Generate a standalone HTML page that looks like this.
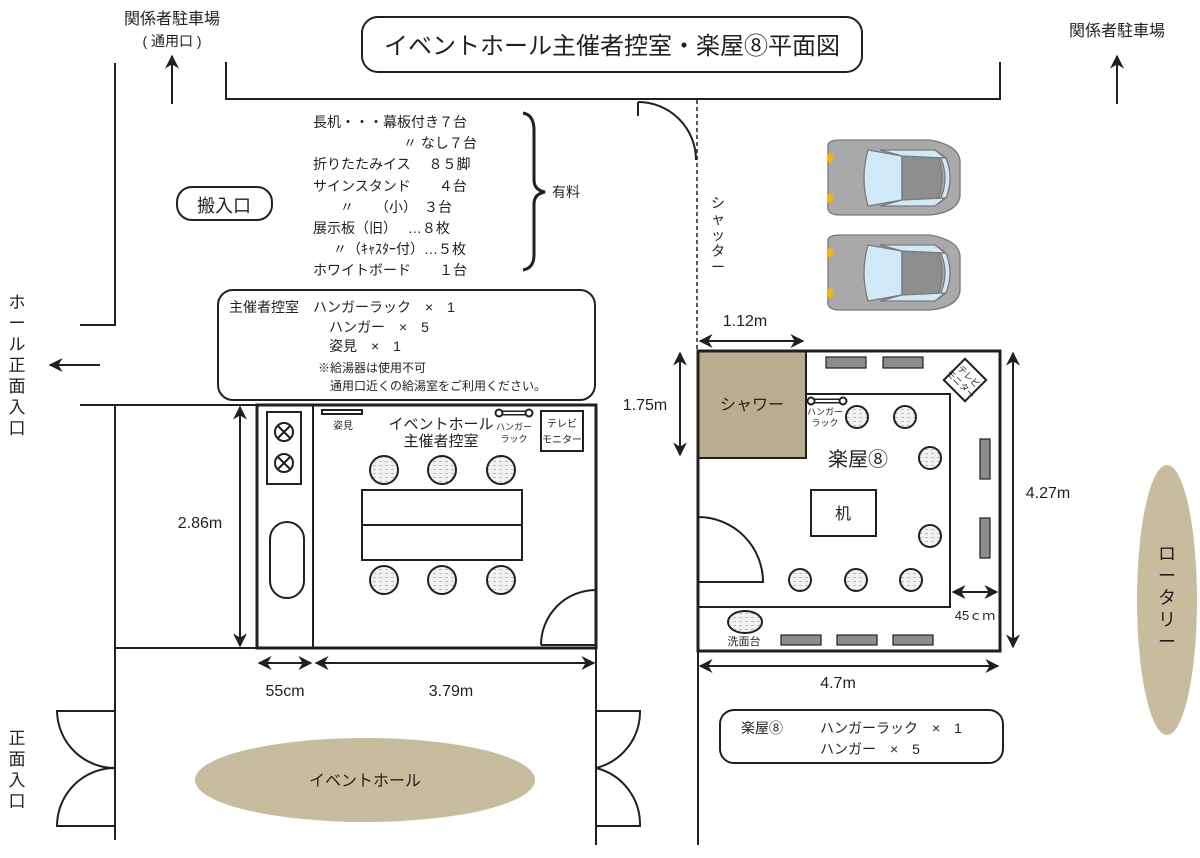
<!DOCTYPE html>
<html><head><meta charset="utf-8"><style>
html,body{margin:0;padding:0;background:#fff}
svg{display:block;font-family:"Liberation Sans","Noto Sans CJK JP",sans-serif;fill:#231f20}
</style></head><body>
<svg width="1200" height="858" viewBox="0 0 1200 858" xmlns="http://www.w3.org/2000/svg">
<defs>
<marker id="ah" viewBox="0 0 10 10" refX="9" refY="5" markerWidth="7" markerHeight="7" orient="auto-start-reverse"><path d="M0,0 L10,5 L0,10 L3,5 z" fill="#231f20"/></marker>
<pattern id="dots" width="6" height="4" patternUnits="userSpaceOnUse"><rect width="6" height="4" fill="#f2f2f2"/><rect x="1" y="1" width="3" height="1" fill="#bbb"/></pattern>
</defs>
<g stroke="#231f20" fill="none" stroke-width="2">
<rect x="362" y="17" width="500" height="55" rx="16"/>
<line x1="172" y1="104" x2="172" y2="56" marker-end="url(#ah)"/>
<line x1="1117" y1="104" x2="1117" y2="56" marker-end="url(#ah)"/>
<polyline points="226,62 226,99 1000,99 1000,62"/>
<polyline points="115,63 115,325 80,325"/>
<line x1="100" y1="365" x2="50" y2="365" marker-end="url(#ah)"/>
<line x1="80" y1="405" x2="257" y2="405"/>
<rect x="177" y="187" width="95" height="33" rx="15"/>
<path d="M523,113 Q534,115 534,130 L534,180 Q534,190 545,192 Q534,194 534,204 L534,255 Q534,268 523,270" stroke-width="3"/>
<rect x="218" y="290" width="377" height="110" rx="15"/>
<rect x="257" y="405" width="339" height="243" stroke-width="3"/>
<line x1="313" y1="405" x2="313" y2="648"/>
<rect x="267" y="412" width="34" height="72"/>
<circle cx="284" cy="432" r="9"/><path d="M278,426 L290,438 M290,426 L278,438"/>
<circle cx="284" cy="463" r="9"/><path d="M278,457 L290,469 M290,457 L278,469"/>
<rect x="270" y="522" width="34" height="76" rx="17"/>
<rect x="322" y="410" width="40" height="4"/>
<line x1="500" y1="413" x2="527" y2="413" stroke-width="5"/><line x1="500" y1="413" x2="527" y2="413" stroke="#fff" stroke-width="2"/>
<circle cx="499" cy="413" r="3.5" fill="#fff"/><circle cx="529" cy="413" r="3.5" fill="#fff"/>
<rect x="541" y="411" width="42" height="40"/>
<rect x="362" y="490" width="160" height="70"/>
<line x1="362" y1="525" x2="522" y2="525"/>
<g fill="url(#dots)">
<circle cx="384" cy="470" r="14"/><circle cx="442" cy="470" r="14"/><circle cx="501" cy="470" r="14"/>
<circle cx="384" cy="580" r="14"/><circle cx="442" cy="580" r="14"/><circle cx="501" cy="580" r="14"/>
</g>
<path d="M541,645 A55,55 0 0,1 596,590"/><line x1="541" y1="645" x2="596" y2="645"/>
<line x1="115" y1="405" x2="115" y2="840"/>
<line x1="115" y1="648" x2="257" y2="648"/>
<line x1="596" y1="648" x2="596" y2="845"/>
<path d="M115,711 L57,711 A58,58 0 0,0 115,768 A58,58 0 0,0 57,826 L115,826"/>
<path d="M596,711 L640,711 A58,58 0 0,1 596,768 A58,58 0 0,1 640,826 L596,826"/>
<line x1="240" y1="407" x2="240" y2="646" marker-start="url(#ah)" marker-end="url(#ah)"/>
<line x1="259" y1="663" x2="311" y2="663" marker-start="url(#ah)" marker-end="url(#ah)"/>
<line x1="316" y1="663" x2="594" y2="663" marker-start="url(#ah)" marker-end="url(#ah)"/>
<line x1="697" y1="100" x2="697" y2="350" stroke-width="1.5" stroke-dasharray="4,3"/>
<path d="M638,102 A58,58 0 0,1 696,160"/><line x1="638" y1="102" x2="638" y2="116"/>
<rect x="698" y="351" width="108" height="107" fill="#b9ad90"/>
<rect x="698" y="351" width="302" height="300" stroke-width="3"/>
<polyline points="806,394 950,394 950,607 698,607"/>
<g fill="#8c8c8c" stroke-width="1.2">
<rect x="826" y="357" width="40" height="11"/><rect x="883" y="357" width="40" height="11"/>
<rect x="781" y="635" width="40" height="10"/><rect x="837" y="635" width="40" height="10"/><rect x="893" y="635" width="40" height="10"/>
<rect x="980" y="439" width="10" height="40"/><rect x="980" y="518" width="10" height="40"/>
</g>
<rect x="950" y="365" width="30" height="30" fill="#fff" transform="rotate(45 965 380)"/>
<line x1="812" y1="401" x2="842" y2="401" stroke-width="5"/><line x1="812" y1="401" x2="842" y2="401" stroke="#fff" stroke-width="2"/>
<circle cx="811" cy="401" r="3.5" fill="#fff"/><circle cx="843" cy="401" r="3.5" fill="#fff"/>
<g fill="url(#dots)">
<circle cx="857" cy="417" r="11"/><circle cx="905" cy="417" r="11"/><circle cx="930" cy="458" r="11"/><circle cx="930" cy="536" r="11"/>
<circle cx="800" cy="580" r="11"/><circle cx="856" cy="580" r="11"/><circle cx="911" cy="580" r="11"/>
</g>
<rect x="811" y="490" width="65" height="46"/>
<path d="M698,517 A65,65 0 0,1 763,582 L698,582"/>
<ellipse cx="745" cy="622" rx="17" ry="11" fill="url(#dots)"/>
<line x1="953" y1="592" x2="997" y2="592" marker-start="url(#ah)" marker-end="url(#ah)"/>
<line x1="700" y1="341" x2="803" y2="341" marker-start="url(#ah)" marker-end="url(#ah)"/>
<line x1="680" y1="353" x2="680" y2="455" marker-start="url(#ah)" marker-end="url(#ah)"/>
<line x1="1013" y1="353" x2="1013" y2="647" marker-start="url(#ah)" marker-end="url(#ah)"/>
<line x1="700" y1="666" x2="998" y2="666" marker-start="url(#ah)" marker-end="url(#ah)"/>
<line x1="698" y1="651" x2="698" y2="845"/>
<rect x="720" y="710" width="283" height="53" rx="14"/>
</g>
<g id="car" stroke="#7a7a7a" stroke-width="1.3">
<path d="M828,148 Q826,140 840,140 L930,140 Q958,145 960,160 L960,196 Q958,212 930,215 L840,215 Q826,215 828,205 Z" fill="#a9a9a9"/>
<path d="M868,150 L902,156 L902,200 L868,206 Q860,178 868,150 Z" fill="#cfe9f6"/>
<path d="M902,156 L938,156 Q946,178 938,200 L902,200 Z" fill="#8e8e8e"/>
<path d="M938,152 Q952,178 938,204 L946,198 Q954,178 946,158 Z" fill="#cfe9f6"/>
<path d="M880,150 L935,150 L945,158 L902,156 Z M880,206 L935,206 L945,198 L902,200 Z" fill="#cfe9f6"/>
<ellipse cx="830" cy="158" rx="3" ry="5" fill="#f2b600" stroke="none"/><ellipse cx="830" cy="198" rx="3" ry="5" fill="#f2b600" stroke="none"/>
</g>
<use href="#car" transform="translate(0,95)"/>
<ellipse cx="365" cy="780" rx="170" ry="42" fill="#c8bc9e"/>
<ellipse cx="1167" cy="600" rx="30" ry="135" fill="#c8bc9e"/>
<g font-size="15">
<text x="172" y="24" text-anchor="middle" font-size="16">関係者駐車場</text>
<text x="172" y="46" text-anchor="middle" font-size="14">( 通用口 )</text>
<text x="1117" y="36" text-anchor="middle" font-size="16">関係者駐車場</text>
<text x="612" y="54" text-anchor="middle" font-size="24">イベントホール主催者控室・楽屋⑧平面図</text>
<text x="224" y="212" text-anchor="middle" font-size="18">搬入口</text>
<g font-size="14">
<text x="313" y="127">長机・・・幕板付き７台</text>
<text x="403" y="148">〃 なし７台</text>
<text x="313" y="169">折りたたみイス　 ８５脚</text>
<text x="313" y="191">サインスタンド　　４台</text>
<text x="340" y="212">〃　　（小）　３台</text>
<text x="313" y="233">展示板（旧）　 …８枚</text>
<text x="333" y="254">〃（ｷｬｽﾀｰ付）…５枚</text>
<text x="313" y="275">ホワイトボード　　１台</text>
<text x="552" y="197">有料</text>
<text x="229" y="312">主催者控室　ハンガーラック　×　1</text>
<text x="329" y="332">ハンガー　×　5</text>
<text x="329" y="351">姿見　×　1</text>
</g>
<text x="318" y="372" font-size="12">※給湯器は使用不可</text>
<text x="330" y="390" font-size="12">通用口近くの給湯室をご利用ください。</text>
<g font-size="17" text-anchor="middle">
<text x="17" y="308">ホ</text><text x="17" y="329">ー</text><text x="17" y="350">ル</text><text x="17" y="371">正</text><text x="17" y="392">面</text><text x="17" y="413">入</text><text x="17" y="434">口</text>
<text x="17" y="744">正</text><text x="17" y="765">面</text><text x="17" y="786">入</text><text x="17" y="807">口</text>
</g>
<g font-size="14" text-anchor="middle">
<text x="718" y="208">シ</text><text x="718" y="224">ャ</text><text x="718" y="240">ッ</text><text x="718" y="256">タ</text><text x="718" y="272">ー</text>
</g>
<g font-size="18" text-anchor="middle">
<text x="1167" y="560">ロ</text><text x="1167" y="582">ー</text><text x="1167" y="604">タ</text><text x="1167" y="626">リ</text><text x="1167" y="648">ー</text>
</g>
<text x="200" y="528" text-anchor="middle" font-size="16">2.86m</text>
<text x="285" y="696" text-anchor="middle" font-size="16">55cm</text>
<text x="451" y="696" text-anchor="middle" font-size="16">3.79m</text>
<text x="365" y="786" text-anchor="middle" font-size="16">イベントホール</text>
<text x="343" y="429" text-anchor="middle" font-size="10">姿見</text>
<text x="441" y="429" text-anchor="middle" font-size="15">イベントホール</text>
<text x="441" y="446" text-anchor="middle" font-size="15">主催者控室</text>
<text x="514" y="430" text-anchor="middle" font-size="9">ハンガー</text>
<text x="514" y="442" text-anchor="middle" font-size="9">ラック</text>
<text x="562" y="427" text-anchor="middle" font-size="10">テレビ</text>
<text x="562" y="443" text-anchor="middle" font-size="10">モニター</text>
<text x="745" y="326" text-anchor="middle" font-size="16">1.12m</text>
<text x="645" y="410" text-anchor="middle" font-size="16">1.75m</text>
<text x="1048" y="498" text-anchor="middle" font-size="16">4.27m</text>
<text x="838" y="688" text-anchor="middle" font-size="16">4.7m</text>
<text x="752" y="410" text-anchor="middle" font-size="16">シャワー</text>
<text x="858" y="466" text-anchor="middle" font-size="20">楽屋⑧</text>
<text x="843" y="519" text-anchor="middle" font-size="16">机</text>
<text x="825" y="415" text-anchor="middle" font-size="9">ハンガー</text>
<text x="825" y="426" text-anchor="middle" font-size="9">ラック</text>
<text x="744" y="645" text-anchor="middle" font-size="11">洗面台</text>
<text x="975" y="620" text-anchor="middle" font-size="13">45ｃｍ</text>
<g transform="rotate(45 965 380)" font-size="9" text-anchor="middle"><text x="965" y="378">テレビ</text><text x="965" y="389">モニター</text></g>
<text x="741" y="733" font-size="14">楽屋⑧</text>
<text x="820" y="733" font-size="14">ハンガーラック　×　1</text>
<text x="820" y="754" font-size="14">ハンガー　×　5</text>
</g>
</svg>
</body></html>
